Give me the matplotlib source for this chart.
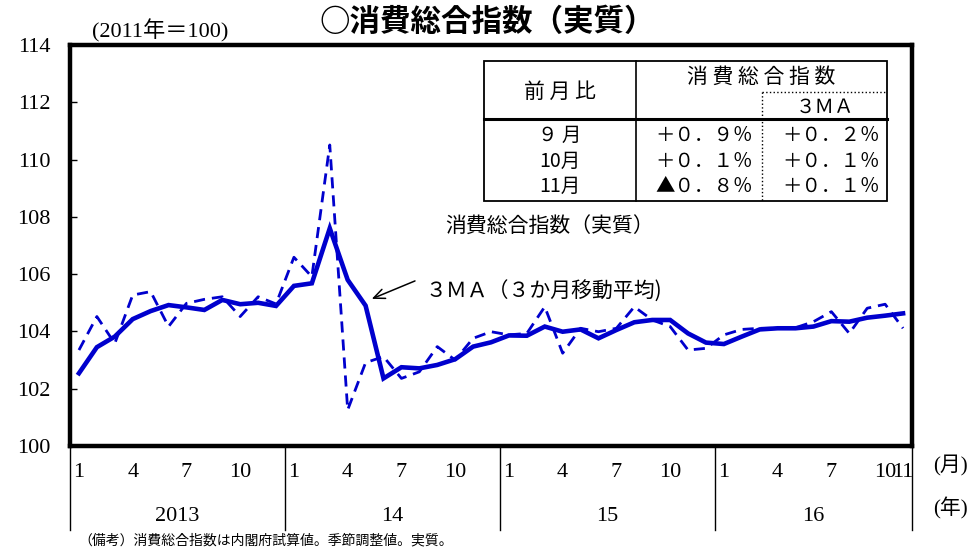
import matplotlib.pyplot as plt
import matplotlib.transforms as mtransforms
from matplotlib.lines import Line2D

# monthly data, Jan 2013 .. Nov 2016 (2011 = 100)
index_real = [103.35, 104.52, 103.58, 105.27, 105.39, 104.17, 104.98, 105.12, 105.21, 104.52, 105.21, 104.96,
              106.59, 105.91, 110.51, 101.26, 102.91, 103.12, 102.36, 102.59, 103.47, 103.00, 103.76, 103.99,
              103.88, 103.93, 104.86, 103.24, 104.11, 103.99, 104.11, 104.86, 104.40, 104.17, 103.35, 103.41,
              103.88, 104.07, 104.11, 104.11, 104.13, 104.34, 104.69, 103.93, 104.81, 104.95, 104.11]
index_3ma = [102.54, 103.45, 103.82, 104.43, 104.71, 104.92, 104.84, 104.75, 105.10, 104.95, 105.00, 104.89,
             105.59, 105.68, 107.60, 105.80, 104.90, 102.36, 102.75, 102.71, 102.83, 103.03, 103.47, 103.62,
             103.86, 103.85, 104.17, 103.99, 104.07, 103.76, 104.05, 104.32, 104.40, 104.40, 103.93, 103.61,
             103.56, 103.82, 104.07, 104.11, 104.11, 104.17, 104.36, 104.34, 104.48, 104.55, 104.63]
years = ['2013', '14', '15', '16']
month_labels = ['1', '4', '7', '10']

table_rows = ['９ 月', '10月', '11月']
table_index = ['＋０．９％', '＋０．１％', '▲０．８％']
table_ma = ['＋０．２％', '＋０．１％', '＋０．１％']

blue = '#0000cd'
serif = ['Liberation Serif', 'Noto Sans CJK JP']
jp = ['Noto Sans CJK JP', 'DejaVu Sans']

W, H = 975, 550
fig = plt.figure(figsize=(9.75, 5.5), dpi=100)


def fx(x):
    return x / W


def fy(y):
    return 1 - y / H


ax = fig.add_axes([fx(70), fy(446), fx(912) - fx(70), fy(45) - fy(446)])
x = list(range(len(index_real)))
ax.plot(x, index_real, color=blue, lw=2, ls=(0, (4, 2.5)))
ax.plot(x, index_3ma, color=blue, lw=3.3, solid_joinstyle='miter')
ax.set_xlim(-0.5, len(x) - 0.5)
ax.set_ylim(100, 114)
ax.set_yticks(range(100, 115, 2))
ax.set_yticklabels([str(v) for v in range(100, 115, 2)], family=serif, fontsize=16)
ax.tick_params(axis='y', direction='in', length=5, width=1, pad=14)
ax.set_xticks([])
for s in ax.spines.values():
    s.set_linewidth(3.2)

# month / year axis below the plot
trans = mtransforms.blended_transform_factory(ax.transData, ax.transAxes)
for k, yr in enumerate(years):
    start = 12 * k
    end = min(start + 12, len(x))
    for m in month_labels:
        i = start + int(m) - 1
        if i < len(x):
            ax.text(i, -0.065, m, transform=trans, ha='center', va='center', family=serif, fontsize=16)
    ax.text((start + end - 1) / 2, -0.175, yr, transform=trans, ha='center', va='center',
            family=serif, fontsize=16)
    ax.plot([start - 0.5, start - 0.5], [0, -0.21], transform=trans, color='black', lw=1, clip_on=False)
ax.text(len(x) - 1, -0.065, '11', transform=trans, ha='center', va='center', family=serif, fontsize=16)
ax.plot([len(x) - 0.5, len(x) - 0.5], [0, -0.21], transform=trans, color='black', lw=1, clip_on=False)

fig.text(fx(950), fy(466), '(月)', ha='center', va='center', family=serif, fontsize=15)
fig.text(fx(950), fy(508), '(年)', ha='center', va='center', family=serif, fontsize=15)

# titles and notes
fig.text(fx(487), fy(22), '○消費総合指数（実質）', ha='center', va='center', family=jp,
         fontsize=22, fontweight='bold')
fig.text(fx(160), fy(31), '(2011年＝100)', ha='center', va='center', family=serif, fontsize=16)
fig.text(fx(78), fy(540), '（備考）消費総合指数は内閣府試算値。季節調整値。実質。', ha='left', va='center',
         family=jp, fontsize=10)

# labels inside the plot
fig.text(fx(445), fy(227), '消費総合指数（実質）', ha='left', va='center', family=jp, fontsize=15)
fig.text(fx(425), fy(292), '３ＭＡ（３か月移動平均)', ha='left', va='center', family=jp, fontsize=15)
ax.annotate('', xy=(16.2, 105.1), xytext=(18.9, 105.8),
            arrowprops=dict(arrowstyle='->,head_length=0.8,head_width=0.35', lw=1.1, color='black'))

# small table in the upper right


def hline(x0, x1, y, lw=1.2, ls='-'):
    fig.add_artist(Line2D([fx(x0), fx(x1)], [fy(y), fy(y)], color='black', lw=lw, ls=ls, zorder=4))


def vline(x, y0, y1, lw=1.2, ls='-'):
    fig.add_artist(Line2D([fx(x), fx(x)], [fy(y0), fy(y1)], color='black', lw=lw, ls=ls, zorder=4))


fig.add_artist(plt.Rectangle((fx(484), fy(201)), fx(887) - fx(484), fy(61) - fy(201),
                             facecolor='white', edgecolor='black', lw=1.3, zorder=2.5))
hline(484, 887, 118.5, lw=2.2)
vline(636, 61, 201)
vline(762, 92, 201, lw=1, ls=':')
hline(762, 887, 92, lw=1, ls=':')
fig.text(fx(560), fy(92), '前 月 比', ha='center', va='center', family=jp, fontsize=15, zorder=5)
fig.text(fx(761), fy(77), '消 費 総 合 指 数', ha='center', va='center', family=jp, fontsize=15, zorder=5)
fig.text(fx(825), fy(107), '３ＭＡ', ha='center', va='center', family=jp, fontsize=14, zorder=5)
row_y = [135, 161, 186]
for r, a, b, yy in zip(table_rows, table_index, table_ma, row_y):
    fig.text(fx(560), fy(yy), r, ha='center', va='center', family=jp, fontsize=14, zorder=5)
    fig.text(fx(753), fy(yy), a, ha='right', va='center', family=jp, fontsize=14, zorder=5)
    fig.text(fx(880), fy(yy), b, ha='right', va='center', family=jp, fontsize=14, zorder=5)

fig.savefig('out.png', dpi=100)
